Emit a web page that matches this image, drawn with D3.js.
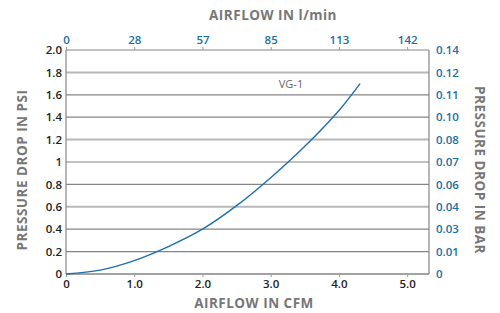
<!DOCTYPE html>
<html>
<head>
<meta charset="utf-8">
<script src="https://cdn.jsdelivr.net/npm/d3@7"></script>
<style>
  body { margin: 0; background: #fff; }
  text { font-family: "Open Sans", sans-serif; }
</style>
</head>
<body>
<div id="chart"></div>
<script>
// chart size
var width = 500,
    height = 313;

// curve (VG-1)
var cfm = [0, 0.5, 1.0, 1.5, 2.0, 2.5, 3.0, 3.5, 4.0, 4.31];
var psi = [0, 0.035, 0.12, 0.245, 0.40, 0.61, 0.86, 1.14, 1.46, 1.70];

// tick labels
var psiTicks = [0, 0.2, 0.4, 0.6, 0.8, 1.0, 1.2, 1.4, 1.6, 1.8, 2.0];
var psiLabels = ['0', '0.2', '0.4', '0.6', '0.8', '1', '1.2', '1.4', '1.6', '1.8', '2.0'];
var barLabels = ['0', '0.01', '0.03', '0.04', '0.06', '0.07', '0.08', '0.10', '0.11', '0.12', '0.14'];
var cfmTicks = [0, 1, 2, 3, 4, 5];
var cfmLabels = ['0', '1.0', '2.0', '3.0', '4.0', '5.0'];
var lminLabels = ['0', '28', '57', '85', '113', '142'];
var lightLines = [0.6, 1.2, 1.8];

// plot box ('top' is taken by window, so use other names)
var plotLeft = 66, plotRight = 429, plotTop = 50, plotBottom = 274;

var x = d3.scaleLinear().domain([0, 5.32]).range([plotLeft, plotRight]);
var y = d3.scaleLinear().domain([0, 2]).range([plotBottom, plotTop]);

var svg = d3.select('#chart').append('svg')
    .attr('width', width)
    .attr('height', height);

// horizontal grid lines
svg.append('g').selectAll('line')
    .data(psiTicks.slice(1))
  .enter().append('line')
    .attr('x1', plotLeft)
    .attr('x2', plotRight)
    .attr('y1', function(d) { return y(d); })
    .attr('y2', function(d) { return y(d); })
    .attr('stroke', function(d) { return lightLines.indexOf(d) >= 0 ? '#b8b8b8' : '#858585'; })
    .attr('stroke-width', function(d) { return lightLines.indexOf(d) >= 0 ? 2 : 1.2; });

// frame
svg.append('line').attr('x1', plotLeft).attr('x2', plotLeft).attr('y1', plotTop).attr('y2', plotBottom)
    .attr('stroke', '#858585').attr('stroke-width', 1.2);
svg.append('line').attr('x1', plotRight).attr('x2', plotRight).attr('y1', plotTop).attr('y2', plotBottom)
    .attr('stroke', '#858585').attr('stroke-width', 1.2);
svg.append('line').attr('x1', plotLeft).attr('x2', plotRight).attr('y1', plotBottom).attr('y2', plotBottom)
    .attr('stroke', '#858585').attr('stroke-width', 1.4);

// left axis (psi)
var yLeft = d3.axisLeft(y)
    .tickValues(psiTicks)
    .tickFormat(function(d, i) { return psiLabels[i]; })
    .tickSize(0)
    .tickPadding(4);
var gl = svg.append('g').attr('transform', 'translate(' + plotLeft + ',0)').call(yLeft);

// right axis (bar)
var yRight = d3.axisRight(y)
    .tickValues(psiTicks)
    .tickFormat(function(d, i) { return barLabels[i]; })
    .tickSize(0)
    .tickPadding(7);
var gr = svg.append('g').attr('transform', 'translate(' + plotRight + ',0)').call(yRight);

// bottom axis (cfm)
var xBottom = d3.axisBottom(x)
    .tickValues(cfmTicks)
    .tickFormat(function(d, i) { return cfmLabels[i]; })
    .tickSize(3)
    .tickPadding(3);
var gb = svg.append('g').attr('transform', 'translate(0,' + plotBottom + ')').call(xBottom);

// top axis (l/min)
var xTop = d3.axisTop(x)
    .tickValues(cfmTicks)
    .tickFormat(function(d, i) { return lminLabels[i]; })
    .tickSize(3)
    .tickPadding(3);
var gt = svg.append('g').attr('transform', 'translate(0,' + plotTop + ')').call(xTop);

[gl, gr, gb, gt].forEach(function(g) {
  g.select('.domain').remove();
  g.selectAll('.tick line').attr('stroke', '#999');
  g.selectAll('text')
    .style('font-family', '"Open Sans", sans-serif')
    .style('font-size', '11.5px')
    .style('font-weight', 600);
});
gl.selectAll('text').attr('fill', '#222');
gb.selectAll('text').attr('fill', '#222');
gr.selectAll('text').attr('fill', '#1c6ea4');
gt.selectAll('text').attr('fill', '#1c6ea4');

// curve
var line = d3.line()
    .x(function(d, i) { return x(cfm[i]); })
    .y(function(d) { return y(d); })
    .curve(d3.curveCatmullRom);

svg.append('path')
    .datum(psi)
    .attr('d', line)
    .attr('fill', 'none')
    .attr('stroke', '#1f6fab')
    .attr('stroke-width', 1.4);

// series label
svg.append('text')
    .attr('x', 291)
    .attr('y', 88)
    .attr('text-anchor', 'middle')
    .attr('fill', '#666')
    .style('font-size', '11px')
    .text('VG-1');

// titles
var titleStyle = function(t) {
  t.attr('text-anchor', 'middle')
    .attr('fill', '#777')
    .style('font-size', '13.5px')
    .style('font-weight', 700)
    .style('letter-spacing', '0.5px');
};

svg.append('text')
    .attr('x', 273)
    .attr('y', 20)
    .call(titleStyle)
    .text('AIRFLOW IN l/min');

svg.append('text')
    .attr('x', 254)
    .attr('y', 308)
    .call(titleStyle)
    .text('AIRFLOW IN CFM');

svg.append('text')
    .attr('transform', 'translate(27,170) rotate(-90)')
    .call(titleStyle)
    .text('PRESSURE DROP IN PSI');

svg.append('text')
    .attr('transform', 'translate(475,170) rotate(90)')
    .call(titleStyle)
    .text('PRESSURE DROP IN BAR');
</script>
</body>
</html>
